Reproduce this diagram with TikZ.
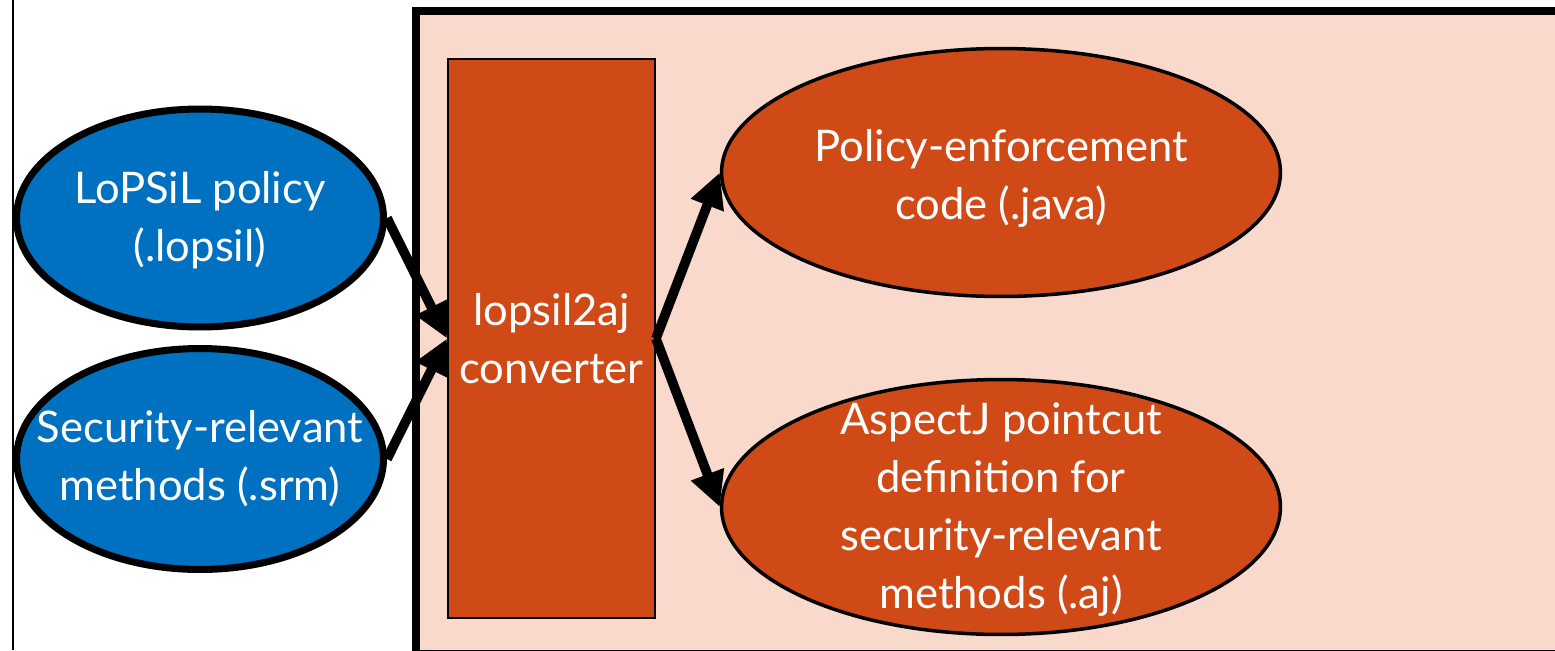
\documentclass[tikz,border=0pt]{standalone}
\usepackage{fontspec}
\setmainfont{Lato}
\usetikzlibrary{shapes.geometric, arrows.meta}
\definecolor{srcblue}{RGB}{0,112,192}
\definecolor{toolred}{RGB}{208,74,23}
\definecolor{panelpink}{RGB}{248,217,204}
\begin{document}
\begin{tikzpicture}[x = 0.02cm, y = -0.02cm,
        font = \fontsize{24.8}{33}\selectfont,
        inside/.style = {text = white, align = center},
        source/.style = {ellipse, draw, line width = 4pt, fill = srcblue,
            minimum width = 7.34cm},
        output/.style = {ellipse, draw, line width = 2pt, fill = toolred,
            minimum width = 11.18cm},
        flow/.style = {line width = 5.5pt, -{Triangle[length = 0.7cm, width = 0.66cm]}}]
        \useasboundingbox (0, 0) rectangle (1555, 650);

        \draw [line width = 0.6pt]
            (13, 0) -- (13, 650)
        ;

        \draw [line width = 4.5pt, fill = panelpink]
            (416, 11) rectangle (1600, 654)
        ;

        \node [draw, line width = 1.1pt, fill = toolred, inside,
                minimum width = 4.14cm, minimum height = 11.18cm]
            (conv) at (551.5, 338.5) {lopsil2aj\\converter};

        \node [source, minimum height = 4.36cm,
                label = {[inside, yshift = -0.05cm]center:LoPSiL policy\\(.lopsil)}]
            (policy) at (200, 218) {};
        \node [source, minimum height = 4.42cm,
                label = {[inside]center:Security-relevant\\methods (.srm)}]
            (srm) at (200, 459) {};

        \node [output, minimum height = 4.96cm,
                label = {[inside, yshift = -0.12cm]center:Policy-enforcement\\code (.java)}]
            (java) at (1001, 172.5) {};
        \node [output, minimum height = 5.1cm,
                label = {[inside, yshift = -0.06cm]center:AspectJ pointcut\\definition for\\security-relevant\\methods (.aj)}]
            (aj) at (1001, 507) {};

        \draw [flow]
            (policy.east) -- (conv.west)
        ;
        \draw [flow]
            (srm.east) -- (conv.west)
        ;
        \draw [flow]
            (conv.east) -- (java.west)
        ;
        \draw [flow]
            (conv.east) -- (aj.west)
        ;
    \end{tikzpicture}
\end{document}
